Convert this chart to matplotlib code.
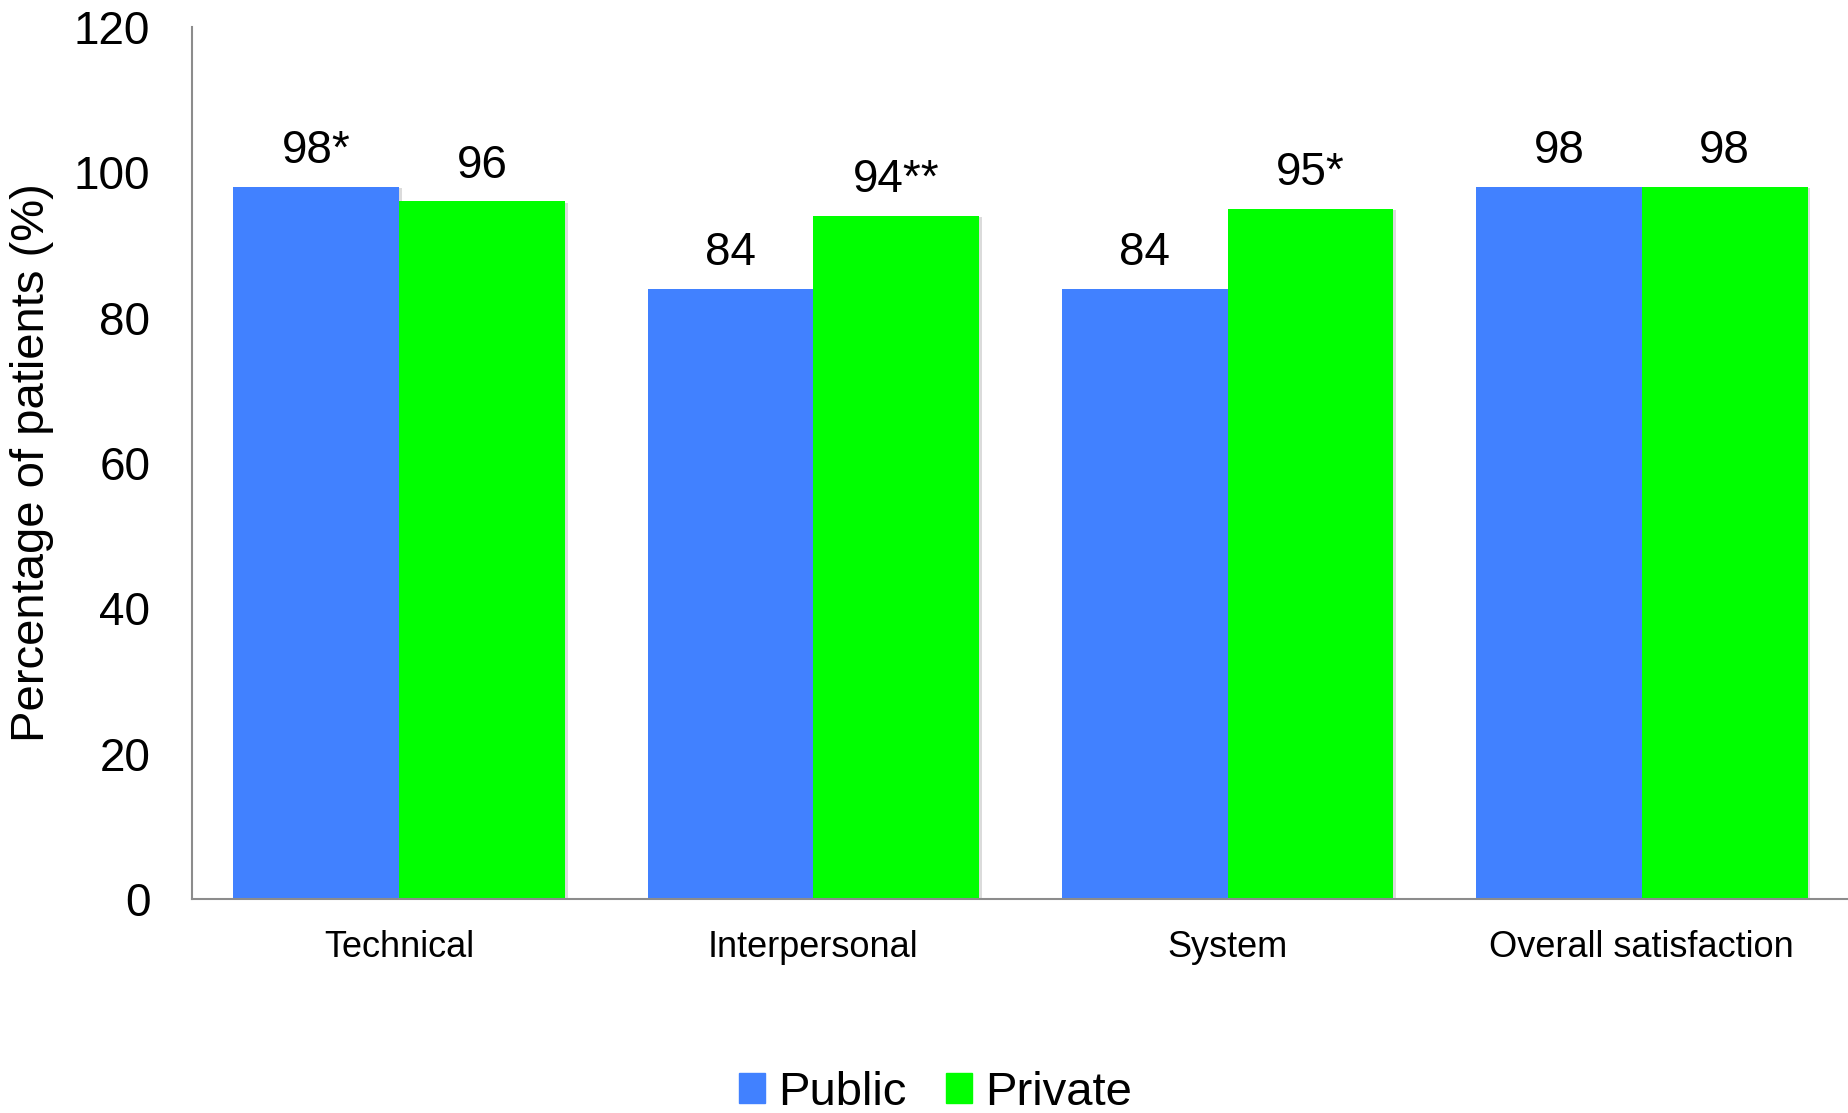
import numpy as np
import matplotlib.pyplot as plt
import matplotlib.patheffects as pe
from matplotlib.patches import Patch

plt.rcParams['font.family'] = ['Liberation Sans', 'DejaVu Sans']

# Satisfaction by domain, public vs private facilities
categories = ['Technical', 'Interpersonal', 'System', 'Overall satisfaction']
public = [98, 84, 84, 98]
private = [96, 94, 95, 98]
public_marks = ['*', '', '', '']
private_marks = ['', '**', '*', '']

blue = '#4181ff'
green = '#00ff00'

fig = plt.figure(figsize=(18.49, 11.13), dpi=100)
ax = fig.add_axes([0.1038, 0.1923, 0.8962, 0.7834])

x = np.arange(len(categories))
w = 0.4
shadow = [pe.SimplePatchShadow(offset=(2, -1), shadow_rgbFace='#999999', alpha=0.35), pe.Normal()]
b1 = ax.bar(x - w / 2, public, w, color=blue, label='Public', path_effects=shadow)
b2 = ax.bar(x + w / 2, private, w, color=green, label='Private', path_effects=shadow)

# value labels with significance stars
for bars, vals, marks in [(b1, public, public_marks), (b2, private, private_marks)]:
    for bar, v, m in zip(bars, vals, marks):
        ax.annotate(f'{v}{m}', (bar.get_x() + bar.get_width() / 2, v),
                    xytext=(0, 17), textcoords='offset points',
                    ha='center', va='baseline', fontsize=33)

ax.set_xlim(-0.5, 3.5)
ax.set_ylim(0, 120)
ax.set_yticks(np.arange(0, 121, 20))
ax.set_xticks(x)
ax.set_xticklabels(categories, fontsize=26)
ax.tick_params(axis='y', labelsize=33, length=0, pad=30)
ax.tick_params(axis='x', length=0, pad=22)

for s in ['top', 'right']:
    ax.spines[s].set_visible(False)
for s in ['left', 'bottom']:
    ax.spines[s].set_color('#8c8c8c')
    ax.spines[s].set_linewidth(1.5)

ax.set_ylabel('Percentage of patients (%)', fontsize=34)
ax.yaxis.set_label_coords(-0.083, 0.5)

handles = [Patch(color=blue, label='Public'), Patch(color=green, label='Private')]
fig.legend(handles=handles, loc='center', bbox_to_anchor=(0.506, 0.018), ncol=2,
           frameon=False, fontsize=34, handlelength=0.55, handleheight=0.6,
           handletextpad=0.28, columnspacing=0.85)

fig.savefig('out.png', dpi=100)
